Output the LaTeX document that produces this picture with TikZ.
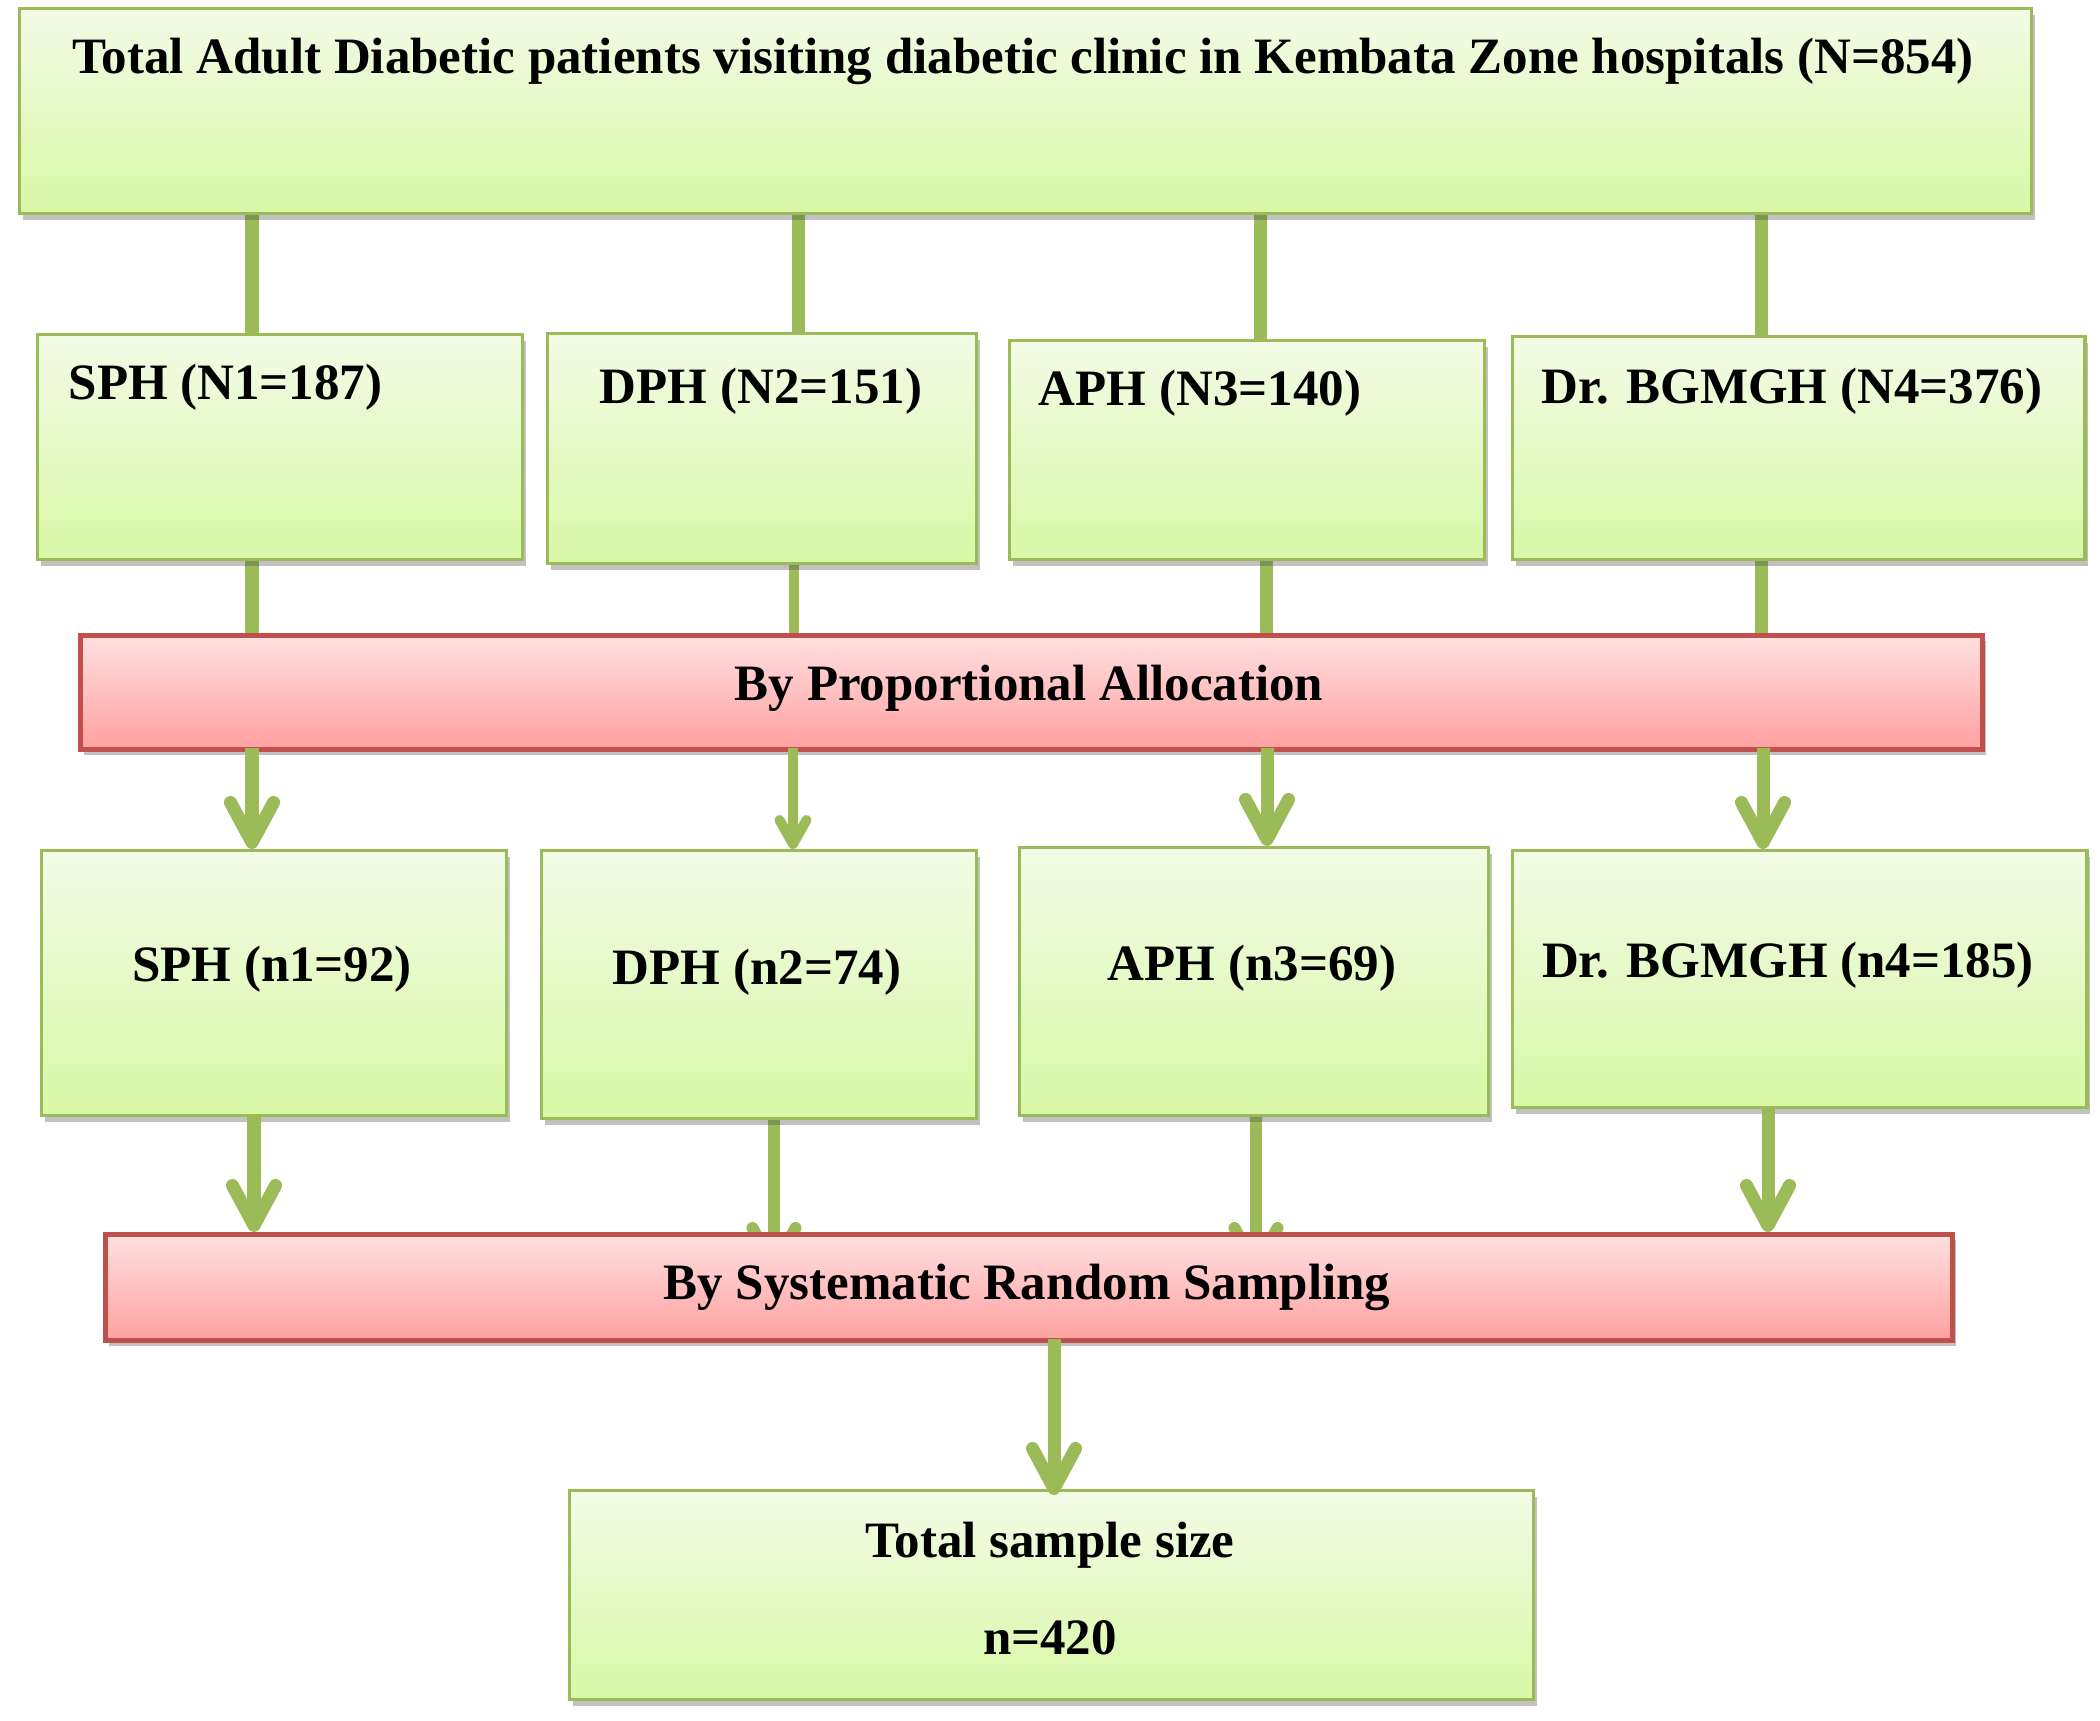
\documentclass[tikz,border=0pt]{standalone}
\usepackage{fontspec}
\setmainfont{Liberation Serif}
\usetikzlibrary{arrows.meta,shadows}
\definecolor{lgreen}{RGB}{155,187,89}
\definecolor{gtop}{RGB}{243,251,230}
\definecolor{gbot}{RGB}{216,248,166}
\definecolor{rborder}{RGB}{192,80,77}
\definecolor{rtop}{RGB}{255,224,224}
\definecolor{rbot}{RGB}{255,160,160}
\tikzset{
  gbox/.style={draw=lgreen, line width=0.9pt, top color=gtop, bottom color=gbot,
    anchor=north west, inner sep=0pt,
    drop shadow={shadow xshift=0.035cm, shadow yshift=-0.06cm, opacity=0.35, fill=black!70}},
  rbox/.style={draw=rborder, line width=1.3pt, top color=rtop, bottom color=rbot,
    anchor=north west, inner sep=0pt,
    drop shadow={shadow xshift=0.035cm, shadow yshift=-0.06cm, opacity=0.35, fill=black!70}},
  txt/.style={font=\fontsize{14.5pt}{17pt}\selectfont\bfseries, inner sep=0pt},
  conn/.style={draw=lgreen, line width=0.13cm},
  arr/.style={draw=lgreen, line width=0.13cm, -{Straight Barb[length=0.40cm, width=0.43cm, round]}},
  sarr/.style={draw=lgreen, line width=0.10cm, -{Straight Barb[length=0.24cm, width=0.27cm, round]}},
}
\begin{document}
\begin{tikzpicture}[x=0.01cm, y=-0.01cm]
\useasboundingbox (0,0) rectangle (2100,1720);
% column coordinates
\coordinate (ca) at (252,0);
\coordinate (cb) at (798,0);
\coordinate (cc) at (1260,0);
\coordinate (cd) at (1761,0);
\coordinate (cb2) at (794,0);
\coordinate (cc2) at (1266,0);
\coordinate (cb3) at (793,0);
\coordinate (cc3) at (1267,0);
\coordinate (cd3) at (1763,0);
\coordinate (ca4) at (254,0);
\coordinate (cb4) at (774,0);
\coordinate (cc4) at (1256,0);
\coordinate (cd4) at (1768,0);
\coordinate (ce) at (1054,0);

% boxes (positions only)
\coordinate (ptop) at (18,7);
\coordinate (p1a) at (36,333);
\coordinate (p1b) at (546,332);
\coordinate (p1c) at (1008,339);
\coordinate (p1d) at (1511,335);
\coordinate (pr1) at (78,633);
\coordinate (p2a) at (40,849);
\coordinate (p2b) at (540,849);
\coordinate (p2c) at (1018,846);
\coordinate (p2d) at (1511,849);
\coordinate (pr2) at (103,1232);
\coordinate (pbot) at (568,1489);

% invisible placeholders for geometry first (so connectors can reference names)
\path (ptop) node[anchor=north west, inner sep=0pt, minimum width=20.11cm, minimum height=2.05cm] (top) {};
\path (p1a) node[anchor=north west, inner sep=0pt, minimum width=4.85cm, minimum height=2.25cm] (r1a) {};
\path (p1b) node[anchor=north west, inner sep=0pt, minimum width=4.29cm, minimum height=2.30cm] (r1b) {};
\path (p1c) node[anchor=north west, inner sep=0pt, minimum width=4.75cm, minimum height=2.19cm] (r1c) {};
\path (p1d) node[anchor=north west, inner sep=0pt, minimum width=5.72cm, minimum height=2.23cm] (r1d) {};
\path (pr1) node[anchor=north west, inner sep=0pt, minimum width=19.01cm, minimum height=1.14cm] (red1) {};
\path (p2a) node[anchor=north west, inner sep=0pt, minimum width=4.65cm, minimum height=2.65cm] (r2a) {};
\path (p2b) node[anchor=north west, inner sep=0pt, minimum width=4.35cm, minimum height=2.68cm] (r2b) {};
\path (p2c) node[anchor=north west, inner sep=0pt, minimum width=4.69cm, minimum height=2.68cm] (r2c) {};
\path (p2d) node[anchor=north west, inner sep=0pt, minimum width=5.74cm, minimum height=2.57cm] (r2d) {};
\path (pr2) node[anchor=north west, inner sep=0pt, minimum width=18.46cm, minimum height=1.06cm] (red2) {};
\path (pbot) node[anchor=north west, inner sep=0pt, minimum width=9.63cm, minimum height=2.09cm] (bot) {};

% connectors hidden beneath boxes
\draw[conn] (top.south -| ca) -- (r1a.north -| ca);
\draw[conn] (top.south -| cb) -- (r1b.north -| cb);
\draw[conn] (top.south -| cc) -- (r1c.north -| cc);
\draw[conn] (top.south -| cd) -- (r1d.north -| cd);
\draw[conn] (r1a.south -| ca) -- (red1.north -| ca);
\draw[conn, line width=0.10cm] (r1b.south -| cb2) -- (red1.north -| cb2);
\draw[conn] (r1c.south -| cc2) -- (red1.north -| cc2);
\draw[conn] (r1d.south -| cd) -- (red1.north -| cd);
\draw[arr, line width=0.12cm] (r2b.south -| cb4) -- ([yshift=-0.42cm]red2.north -| cb4);
\draw[arr, line width=0.12cm] (r2c.south -| cc4) -- ([yshift=-0.42cm]red2.north -| cc4);

% drawn boxes
\path (ptop) node[gbox, minimum width=20.11cm, minimum height=2.05cm] {};
\path (p1a) node[gbox, minimum width=4.85cm, minimum height=2.25cm] {};
\path (p1b) node[gbox, minimum width=4.29cm, minimum height=2.30cm] {};
\path (p1c) node[gbox, minimum width=4.75cm, minimum height=2.19cm] {};
\path (p1d) node[gbox, minimum width=5.72cm, minimum height=2.23cm] {};
\path (pr1) node[rbox, minimum width=19.01cm, minimum height=1.14cm] {};
\path (p2a) node[gbox, minimum width=4.65cm, minimum height=2.65cm] {};
\path (p2b) node[gbox, minimum width=4.35cm, minimum height=2.68cm] {};
\path (p2c) node[gbox, minimum width=4.69cm, minimum height=2.68cm] {};
\path (p2d) node[gbox, minimum width=5.74cm, minimum height=2.57cm] {};
\path (pr2) node[rbox, minimum width=18.46cm, minimum height=1.06cm] {};
\path (pbot) node[gbox, minimum width=9.63cm, minimum height=2.09cm] {};

% arrows drawn on top
\draw[arr] (red1.south -| ca) -- (r2a.north -| ca);
\draw[sarr] (red1.south -| cb3) -- (r2b.north -| cb3);
\draw[arr] (red1.south -| cc3) -- (r2c.north -| cc3);
\draw[arr] (red1.south -| cd3) -- (r2d.north -| cd3);
\draw[arr] (r2a.south -| ca4) -- (red2.north -| ca4);
\draw[arr] (r2d.south -| cd4) -- (red2.north -| cd4);
\draw[arr] (red2.south -| ce) -- ([yshift=-0.06cm]bot.north -| ce);

% texts
\node[txt, anchor=base] (ttop) at (1023,73) {Total Adult Diabetic patients visiting diabetic clinic in Kembata Zone hospitals (N=854)};
\node[txt, anchor=base west] (t1a) at (68,399) {SPH (N1=187)};
\node[txt, anchor=base] (t1b) at (761,403) {DPH (N2=151)};
\node[txt, anchor=base] (t1c) at (1200,405) {APH (N3=140)};
\node[txt, anchor=base] (t1d) at (1792,403) {Dr. BGMGH (N4=376)};
\node[txt, anchor=base] (tr1) at (1029,700) {By Proportional Allocation};
\node[txt, anchor=base] (t2a) at (272,981) {SPH (n1=92)};
\node[txt, anchor=base] (t2b) at (757,984) {DPH (n2=74)};
\node[txt, anchor=base] (t2c) at (1252,980) {APH (n3=69)};
\node[txt, anchor=base] (t2d) at (1788,977) {Dr. BGMGH (n4=185)};
\node[txt, anchor=base] (tr2) at (1027,1299) {By Systematic Random Sampling};
\node[txt, anchor=base] (tb1) at (1050,1557) {Total sample size};
\node[txt, anchor=base] (tb2) at (1050,1654) {n=420};
\end{tikzpicture}
\end{document}
